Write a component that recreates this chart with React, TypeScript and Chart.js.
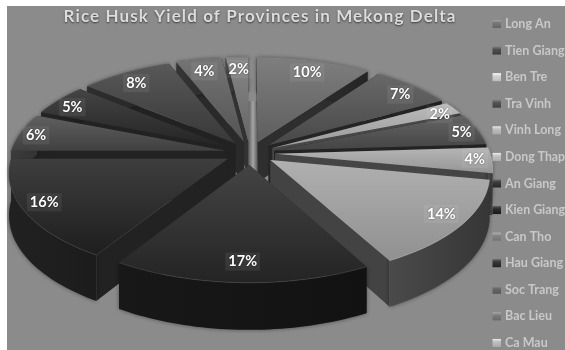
import React, { useEffect, useRef } from "react";
import { Chart, registerables } from "chart.js";

Chart.register(...registerables);

const titleText = "Rice Husk Yield of Provinces in Mekong Delta";
const provinces = ["Long An", "Tien Giang", "Ben Tre", "Tra Vinh", "Vinh Long", "Dong Thap", "An Giang", "Kien Giang", "Can Tho", "Hau Giang", "Soc Trang", "Bac Lieu", "Ca Mau"];
const shares = [10, 7, 2, 5, 4, 14, 17, 16, 6, 5, 8, 4, 2];
const sliceGreys = [110, 88, 170, 84, 165, 160, 52, 46, 80, 52, 72, 100, 118];
const swatchGreys = [120, 80, 210, 85, 190, 195, 60, 45, 135, 55, 105, 125, 190];

// Projection of the tilted pie onto the canvas.
const VIEW = { radius: 215, tilt: 0.47, perspective: 0.15, depth: 41, reach: 240, explode: 25, labelReach: 205 };

const grey = (v: number, a = 1) => {
  const c = Math.max(0, Math.min(255, Math.round(v)));
  return `rgba(${c},${c},${c},${a})`;
};

function project(cx: number, cy: number, X: number, Y: number, Z = 0) {
  const s = 1 + (VIEW.perspective * Y) / VIEW.reach;
  return { x: cx + X * s, y: cy + Y * VIEW.tilt * s + Z * s };
}

function trace(ctx: CanvasRenderingContext2D, pts: { x: number; y: number }[]) {
  ctx.beginPath();
  pts.forEach((p, i) => (i ? ctx.lineTo(p.x, p.y) : ctx.moveTo(p.x, p.y)));
  ctx.closePath();
}

const pie3d = {
  id: "pie3d",
  beforeDraw(chart: any) {
    const { ctx, width, height } = chart;
    ctx.save();
    ctx.fillStyle = "#fff";
    ctx.fillRect(0, 0, width, height);
    ctx.fillStyle = "#8b8b8b";
    ctx.fillRect(7, 6, width - 7, height - 6);
    ctx.restore();
  },
  beforeDatasetsDraw(chart: any) {
    const { ctx } = chart;
    const arcs = chart.getDatasetMeta(0).data;
    const order = arcs
      .map((arc: any, i: number) => ({ arc, i, mid: (arc.startAngle + arc.endAngle) / 2 }))
      .sort((a: any, b: any) => Math.sin(a.mid) - Math.sin(b.mid));

    // Lit strip seen through the gap between the last and the first slice
    const firstArc = arcs[0];
    const lastArc = arcs[arcs.length - 1];
    const apexOf = (arc: any) => {
      const mid = (arc.startAngle + arc.endAngle) / 2;
      return { X: Math.cos(mid) * VIEW.explode, Y: Math.sin(mid) * VIEW.explode };
    };
    const gapLeft = project(lastArc.x, lastArc.y, apexOf(lastArc).X, apexOf(lastArc).Y).x;
    const gapRight = project(firstArc.x, firstArc.y, apexOf(firstArc).X, apexOf(firstArc).Y).x;
    const gapTop = project(firstArc.x, firstArc.y, 0, -VIEW.radius, VIEW.depth).y;
    const gapBottom = project(firstArc.x, firstArc.y, 0, 0, VIEW.depth).y;
    const strip = ctx.createLinearGradient(gapLeft, 0, gapRight, 0);
    strip.addColorStop(0, grey(95));
    strip.addColorStop(0.5, grey(165));
    strip.addColorStop(1, grey(90));
    ctx.fillStyle = strip;
    ctx.fillRect(gapLeft, gapTop, gapRight - gapLeft, gapBottom - gapTop);

    for (const { arc, i, mid } of order) {
      const R = VIEW.radius;
      const ex = Math.cos(mid) * VIEW.explode;
      const ey = Math.sin(mid) * VIEW.explode;
      const steps = Math.max(4, Math.ceil((arc.endAngle - arc.startAngle) / 0.025));
      const rim: { X: number; Y: number }[] = [];
      for (let k = 0; k <= steps; k++) {
        const t = arc.startAngle + ((arc.endAngle - arc.startAngle) * k) / steps;
        rim.push({ X: ex + Math.cos(t) * R, Y: ey + Math.sin(t) * R });
      }
      const at = (p: { X: number; Y: number }, z = 0) => project(arc.x, arc.y, p.X, p.Y, z);
      const apex = { X: ex, Y: ey };
      const base = sliceGreys[i];

      ctx.save();
      // Radial walls
      const first = rim[0];
      const last = rim[rim.length - 1];
      ctx.fillStyle = grey(Math.max(34, base * 0.42));
      for (const edge of [first, last]) {
        trace(ctx, [at(apex), at(edge), at(edge, VIEW.depth), at(apex, VIEW.depth)]);
        ctx.fill();
      }
      // Rounded outer wall: the left side of the pie catches more light
      const lo = at(first), hi = at(last);
      const leftward = Math.max(0, -Math.cos(mid));
      const wall = ctx.createLinearGradient(Math.min(lo.x, hi.x), 0, Math.max(lo.x, hi.x), 0);
      wall.addColorStop(0, grey(base * (0.46 + 0.3 * leftward)));
      wall.addColorStop(1, grey(base * (0.34 + 0.3 * leftward)));
      ctx.fillStyle = wall;
      ctx.shadowColor = "rgba(0,0,0,0.45)";
      ctx.shadowBlur = 4;
      trace(ctx, [...rim.map((p) => at(p)), ...rim.slice().reverse().map((p) => at(p, VIEW.depth))]);
      ctx.fill();
      ctx.shadowColor = "transparent";
      ctx.shadowBlur = 0;
      // Top face with a soft highlight
      const face = [at(apex), ...rim.map((p) => at(p))];
      const ys = face.map((p) => p.y);
      const top = ctx.createLinearGradient(0, Math.min(...ys), 0, Math.max(...ys));
      top.addColorStop(0, grey(base + 16));
      top.addColorStop(1, grey(base - 16));
      ctx.fillStyle = top;
      trace(ctx, face);
      ctx.fill();
      // Thin bevel along the rim
      ctx.strokeStyle = grey(base + 30, 0.55);
      ctx.lineWidth = 1;
      ctx.beginPath();
      rim.forEach((p, k) => {
        const q = at(p);
        if (k) ctx.lineTo(q.x, q.y);
        else ctx.moveTo(q.x, q.y);
      });
      ctx.stroke();
      ctx.restore();
    }
    return false;
  },
  afterDraw(chart: any) {
    const { ctx, width } = chart;
    const arcs = chart.getDatasetMeta(0).data;
    const total = shares.reduce((a, b) => a + b, 0);

    ctx.save();
    ctx.textAlign = "center";
    ctx.textBaseline = "middle";

    // Percentage labels on each slice
    ctx.font = "bold 14.5px Lato";
    arcs.forEach((arc: any, i: number) => {
      const mid = (arc.startAngle + arc.endAngle) / 2;
      const spread = 1 + 0.09 * Math.abs(Math.cos(mid));
      const p = project(arc.x, arc.y, Math.cos(mid) * VIEW.labelReach * spread, Math.sin(mid) * VIEW.labelReach);
      const text = `${Math.round((shares[i] / total) * 100)}%`;
      const w = ctx.measureText(text).width + 6;
      ctx.fillStyle = "rgba(255,255,255,0.07)";
      ctx.fillRect(p.x - w / 2, p.y - 9, w, 18);
      ctx.fillStyle = "#fff";
      ctx.shadowColor = "rgba(0,0,0,0.5)";
      ctx.shadowBlur = 2;
      ctx.fillText(text, p.x, p.y);
      ctx.shadowBlur = 0;
      ctx.shadowColor = "transparent";
    });

    // Title
    ctx.font = "bold 17px Lato";
    (ctx as any).letterSpacing = "1.1px";
    ctx.fillStyle = "#dcdcdc";
    ctx.shadowColor = "rgba(0,0,0,0.6)";
    ctx.shadowBlur = 2;
    ctx.shadowOffsetY = 1;
    ctx.fillText(titleText, 260, 17);
    (ctx as any).letterSpacing = "0px";
    ctx.shadowColor = "transparent";
    ctx.shadowBlur = 0;
    ctx.shadowOffsetY = 0;

    // Legend column
    ctx.textAlign = "left";
    ctx.font = "bold 12.5px Lato";
    provinces.forEach((name, i) => {
      const y = 24 + i * 26.58;
      const box = ctx.createLinearGradient(0, y - 4, 0, y + 4);
      box.addColorStop(0, grey(swatchGreys[i] + 45));
      box.addColorStop(0.35, grey(swatchGreys[i]));
      box.addColorStop(1, grey(swatchGreys[i] - 20));
      ctx.fillStyle = box;
      ctx.fillRect(492.5, y - 4, 8.5, 8);
      ctx.fillStyle = "#c8c8c8";
      ctx.fillText(name, 505, y, width - 505);
    });
    ctx.restore();
  },
};

export default function App() {
  const ref = useRef<HTMLCanvasElement>(null);
  useEffect(() => {
    document.body.style.margin = "0";
    const chart = new Chart(ref.current!, {
      type: "pie",
      data: {
        labels: provinces,
        datasets: [{ data: shares, backgroundColor: sliceGreys.map((g) => grey(g)), borderWidth: 0 }],
      },
      options: {
        responsive: false,
        animation: false,
        layout: { padding: { right: 65, bottom: 44 } },
        plugins: { legend: { display: false }, title: { display: false }, tooltip: { enabled: false } },
      },
      plugins: [pie3d],
    } as any);
    return () => chart.destroy();
  }, []);
  return <canvas ref={ref} width={565} height={350} style={{ display: "block" }} />;
}
